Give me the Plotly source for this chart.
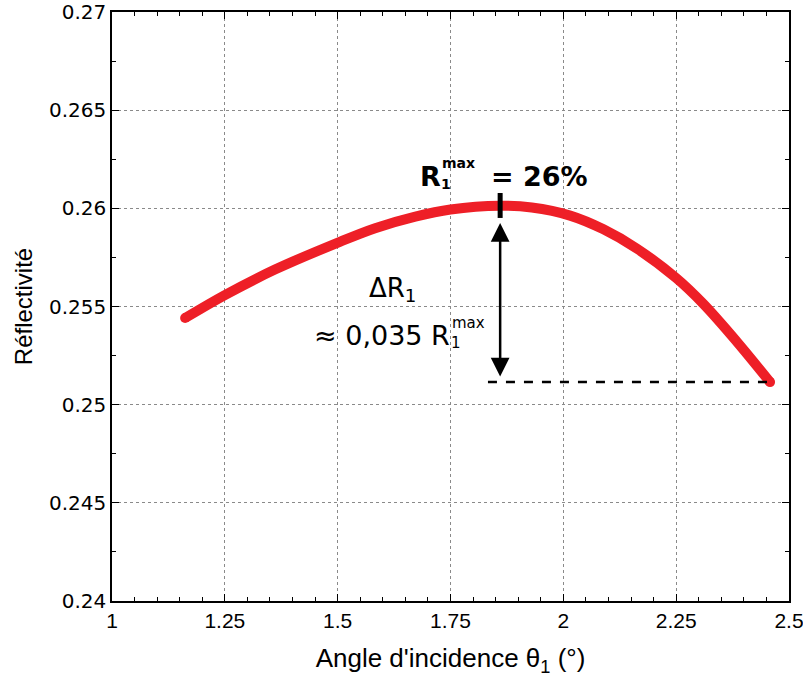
import plotly.graph_objects as go

# Data
angle_deg = [1.162, 1.25, 1.361, 1.498, 1.583, 1.672, 1.75, 1.86, 1.93, 2.015,
             2.089, 2.163, 2.25, 2.31, 2.384, 2.458]
reflectivity = [0.25441, 0.25558, 0.25688, 0.25823, 0.25899, 0.25958, 0.25994, 0.26013,
                0.26004, 0.25963, 0.25893, 0.25795, 0.25645, 0.25514, 0.25322, 0.25115]

x_ticks = [1, 1.25, 1.5, 1.75, 2, 2.25, 2.5]
x_tick_labels = ["1", "1.25", "1.5", "1.75", "2", "2.25", "2.5"]
y_ticks = [0.24, 0.245, 0.25, 0.255, 0.26, 0.265, 0.27]
y_tick_labels = ["0.24", "0.245", "0.25", "0.255", "0.26", "0.265", "0.27"]

peak_x = 1.86
dash_start_x = 1.833
arrow_top = 0.25925
arrow_bottom = 0.25136

RED = "#EE1F27"
FONT = "DejaVu Sans"
FONT_X = "Liberation Sans"

fig = go.Figure()

fig.add_trace(go.Scatter(
    x=angle_deg, y=reflectivity, mode="lines",
    line=dict(color=RED, width=10, shape="spline", smoothing=1.0),
    showlegend=False, hoverinfo="skip"))
fig.add_trace(go.Scatter(
    x=[angle_deg[0], angle_deg[-1]], y=[reflectivity[0], reflectivity[-1]],
    mode="markers", marker=dict(color=RED, size=10, line=dict(width=0)),
    showlegend=False, hoverinfo="skip"))

# dashed horizontal line at final reflectivity
fig.add_shape(type="line", x0=dash_start_x, x1=angle_deg[-1],
              y0=reflectivity[-1], y1=reflectivity[-1],
              line=dict(color="black", width=2.5, dash="dash"))
# black tick at maximum
fig.add_shape(type="line", x0=peak_x, x1=peak_x, y0=0.25951, y1=0.26078,
              line=dict(color="black", width=5))

# double-headed arrow
fig.add_annotation(x=peak_x, y=arrow_top, ax=peak_x, ay=arrow_bottom,
                   xref="x", yref="y", axref="x", ayref="y",
                   showarrow=True, arrowhead=2, startarrowhead=2,
                   arrowside="end+start", arrowwidth=2.5, arrowsize=1.5,
                   startarrowsize=1.5, arrowcolor="black", text="")

# R1max = 26%
fig.add_annotation(x=1.7046, y=0.2616, xref="x", yref="y", showarrow=False,
                   text="<b>R</b>", font=dict(family=FONT, size=27, color="black"),
                   xanchor="center", yanchor="middle")
fig.add_annotation(x=1.739, y=0.26122, xref="x", yref="y", showarrow=False,
                   text="<b>1</b>", font=dict(family=FONT, size=14, color="black"),
                   xanchor="center", yanchor="middle")
fig.add_annotation(x=1.768, y=0.2623, xref="x", yref="y", showarrow=False,
                   text="<b>max</b>", font=dict(family=FONT, size=14, color="black"),
                   xanchor="center", yanchor="middle")
fig.add_annotation(x=1.948, y=0.2616, xref="x", yref="y", showarrow=False,
                   text="<b>= 26%</b>", font=dict(family=FONT, size=27, color="black"),
                   xanchor="center", yanchor="middle")

# Delta R1
fig.add_annotation(x=1.622, y=0.25585, xref="x", yref="y", showarrow=False,
                   text="ΔR<sub>1</sub>", font=dict(family=FONT, size=26, color="black"),
                   xanchor="center", yanchor="middle")
fig.add_annotation(x=1.598, y=0.2535, xref="x", yref="y", showarrow=False,
                   text="≈ 0,035 R", font=dict(family=FONT, size=27, color="black"),
                   xanchor="center", yanchor="middle")
fig.add_annotation(x=1.762, y=0.25312, xref="x", yref="y", showarrow=False,
                   text="1", font=dict(family=FONT, size=15, color="black"),
                   xanchor="center", yanchor="middle")
fig.add_annotation(x=1.789, y=0.25416, xref="x", yref="y", showarrow=False,
                   text="max", font=dict(family=FONT, size=15, color="black"),
                   xanchor="center", yanchor="middle")

axis_common = dict(
    showline=True, linecolor="black", linewidth=1.5, mirror="allticks",
    ticks="inside", ticklen=7, tickwidth=1.2, tickcolor="black",
    showgrid=True, gridcolor="#8a8a8a", griddash="dot", gridwidth=1,
    zeroline=False, automargin=False, ticklabeloverflow="allow",
)

fig.update_xaxes(range=[1, 2.5], tickvals=x_ticks, ticktext=x_tick_labels,
                 tickfont=dict(family=FONT_X, size=21, color="black"),
                 title=dict(text="Angle d'incidence θ<sub>1</sub> (°)",
                            font=dict(family=FONT_X, size=26, color="black"), standoff=18),
                 minor=dict(dtick=0.05, ticks="inside", ticklen=4, tickcolor="black",
                            showgrid=False),
                 **axis_common)
fig.update_yaxes(range=[0.24, 0.27], tickvals=y_ticks, ticktext=y_tick_labels,
                 tickfont=dict(family=FONT, size=20, color="black"),
                 title=dict(text="Réflectivité",
                            font=dict(family=FONT_X, size=24, color="black"), standoff=10),
                 minor=dict(dtick=0.0025, ticks="inside", ticklen=4, tickcolor="black",
                            showgrid=False),
                 **axis_common)

fig.update_layout(width=803, height=677, plot_bgcolor="white", paper_bgcolor="white",
                  margin=dict(l=112, r=14, t=12, b=76))

fig.write_html("out.html", config={"displayModeBar": False},
               post_script="document.body.style.margin='0';")
